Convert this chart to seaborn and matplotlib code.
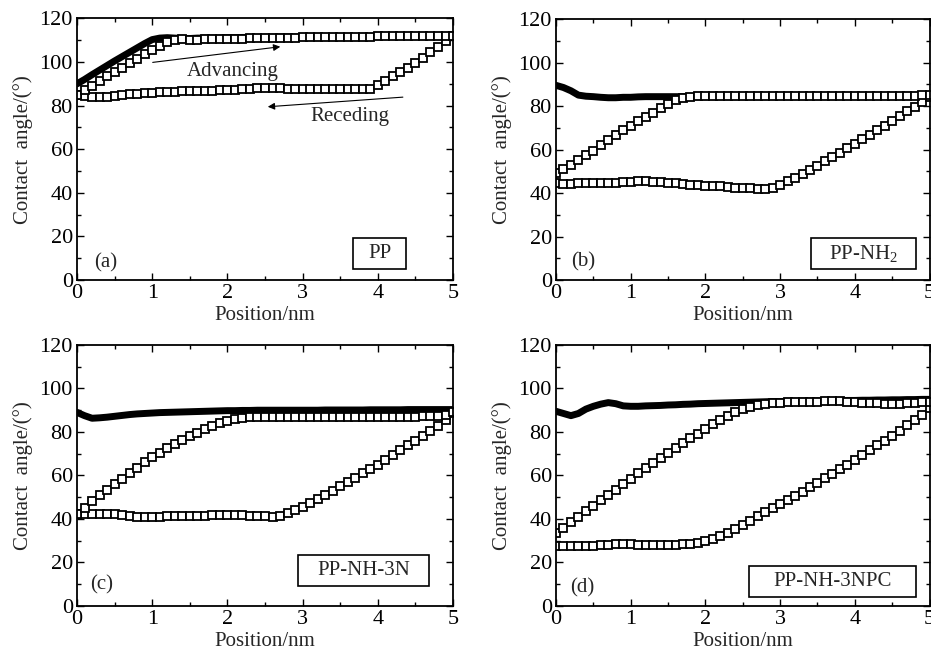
import matplotlib
matplotlib.use("Agg")
import matplotlib.pyplot as plt
from matplotlib.patches import Rectangle
from matplotlib.ticker import MultipleLocator
import seaborn as sns

pos = [0.0, 0.1, 0.2, 0.3, 0.4, 0.5, 0.6, 0.7, 0.8, 0.9,
       1.0, 1.1, 1.2, 1.3, 1.4, 1.5, 1.6, 1.7, 1.8, 1.9,
       2.0, 2.1, 2.2, 2.3, 2.4, 2.5, 2.6, 2.7, 2.8, 2.9,
       3.0, 3.1, 3.2, 3.3, 3.4, 3.5, 3.6, 3.7, 3.8, 3.9,
       4.0, 4.1, 4.2, 4.3, 4.4, 4.5, 4.6, 4.7, 4.8, 4.9,
       5.0]

# (a) PP
a_adv1 = [90.0, 92.0, 94.2, 96.3, 98.4, 100.5, 102.5, 104.5, 106.5, 108.5,
          110.3, 111.0, 111.2, 111.0, 110.8, 110.8, 111.0, 111.0, 111.0, 111.0,
          111.2, 111.2, 111.3, 111.3, 111.3, 111.4, 111.4, 111.5, 111.5, 111.5,
          111.5, 111.6, 111.6, 111.6, 111.6, 111.7, 111.7, 111.7, 111.8, 111.8,
          111.8, 111.9, 111.9, 112.0, 112.0, 112.0, 112.0, 112.0, 112.0, 112.0,
          112.0]
a_adv2 = [85.0, 87.0, 89.0, 91.2, 93.4, 95.5, 97.5, 99.5, 101.5, 103.5,
          105.5, 107.5, 109.3, 110.3, 110.5, 110.3, 110.3, 110.5, 110.5, 110.6,
          110.7, 110.8, 110.8, 110.9, 111.0, 111.0, 111.0, 111.1, 111.2, 111.2,
          111.3, 111.3, 111.4, 111.4, 111.5, 111.5, 111.6, 111.6, 111.7, 111.7,
          111.8, 111.8, 111.9, 111.9, 112.0, 112.0, 112.0, 112.0, 112.0, 112.0,
          112.0]
a_rec = [85.0, 84.3, 84.0, 84.0, 84.2, 84.5, 84.8, 85.2, 85.5, 85.8,
         86.0, 86.2, 86.3, 86.4, 86.5, 86.6, 86.6, 86.7, 86.8, 87.0,
         87.2, 87.4, 87.6, 87.8, 88.0, 88.2, 88.2, 88.0, 87.8, 87.7,
         87.6, 87.5, 87.5, 87.5, 87.5, 87.5, 87.5, 87.5, 87.5, 87.8,
         89.5, 91.5, 93.5, 95.5, 97.5, 99.5, 102.0, 104.5, 107.0, 109.5,
         112.0]

# (b) PP-NH2
b_adv1 = [89.5, 88.5, 87.0, 85.0, 84.5, 84.3, 84.0, 83.8, 83.8, 84.0,
          84.0, 84.2, 84.3, 84.3, 84.3, 84.3, 84.3, 84.3, 84.3, 84.3,
          84.3, 84.3, 84.3, 84.3, 84.3, 84.3, 84.3, 84.4, 84.4, 84.4,
          84.4, 84.4, 84.5, 84.5, 84.5, 84.5, 84.5, 84.6, 84.6, 84.6,
          84.6, 84.7, 84.7, 84.7, 84.8, 84.8, 84.8, 84.9, 84.9, 85.0,
          85.0]
b_adv2 = [49.0, 51.0, 53.0, 55.0, 57.5, 59.5, 62.0, 64.5, 66.8, 69.0,
          71.0, 73.0, 75.0, 77.0, 79.0, 81.0, 82.8, 83.8, 84.3, 84.4,
          84.4, 84.4, 84.4, 84.4, 84.4, 84.4, 84.4, 84.4, 84.4, 84.4,
          84.4, 84.4, 84.5, 84.5, 84.5, 84.5, 84.5, 84.5, 84.6, 84.6,
          84.6, 84.6, 84.7, 84.7, 84.7, 84.7, 84.8, 84.8, 84.8, 84.9,
          85.0]
b_rec = [44.5, 44.3, 44.3, 44.4, 44.5, 44.5, 44.6, 44.7, 44.8, 45.0,
         45.2, 45.4, 45.4, 45.2, 45.0, 44.7, 44.4, 44.1, 43.8, 43.6,
         43.4, 43.2, 43.0, 42.8, 42.5, 42.3, 42.2, 41.8, 41.8, 42.5,
         43.8, 45.3, 47.0, 48.8, 50.7, 52.6, 54.5, 56.5, 58.5, 60.5,
         62.5, 64.6, 66.7, 68.8, 71.0, 73.2, 75.4, 77.6, 79.7, 81.8,
         84.0]

# (c) PP-NH-3N
c_adv1 = [89.0, 87.5, 86.3, 86.5, 86.8, 87.2, 87.6, 88.0, 88.3, 88.5,
          88.7, 88.9, 89.0, 89.1, 89.2, 89.3, 89.4, 89.5, 89.6, 89.7,
          89.8, 89.8, 89.9, 89.9, 90.0, 90.0, 90.0, 90.0, 90.0, 90.0,
          90.0, 90.0, 90.0, 90.1, 90.1, 90.1, 90.1, 90.1, 90.1, 90.2,
          90.2, 90.2, 90.2, 90.2, 90.3, 90.3, 90.3, 90.3, 90.3, 90.3,
          90.3]
c_adv2 = [42.0, 45.0, 48.0, 50.8, 53.5, 56.0, 58.5, 61.0, 63.5, 66.0,
          68.3, 70.5, 72.5, 74.5, 76.3, 78.0, 79.7, 81.3, 82.8, 84.0,
          85.0, 86.0, 86.5, 86.7, 86.8, 86.8, 86.8, 86.8, 86.8, 86.8,
          86.8, 86.9, 86.9, 86.9, 86.9, 86.9, 87.0, 87.0, 87.0, 87.0,
          87.0, 87.0, 87.0, 87.0, 87.1, 87.1, 87.2, 87.3, 87.5, 88.0,
          89.0]
c_rec = [42.0, 42.0, 42.0, 42.0, 42.0, 42.0, 41.8, 41.5, 41.0, 40.8,
         40.8, 41.0, 41.2, 41.3, 41.4, 41.4, 41.4, 41.5, 41.6, 41.7,
         41.8, 41.7, 41.6, 41.5, 41.4, 41.2, 41.0, 41.5, 42.7, 44.0,
         45.5, 47.2, 49.0, 51.0, 53.0, 55.0, 57.0, 59.0, 61.0, 63.0,
         65.0, 67.2, 69.4, 71.6, 73.8, 76.0, 78.2, 80.4, 82.6, 85.5,
         88.5]

# (d) PP-NH-3NPC
d_adv1 = [89.5, 88.5, 87.5, 88.5, 90.5, 91.8, 92.8, 93.5, 93.0, 92.0,
          91.8, 91.8, 92.0, 92.1, 92.2, 92.4, 92.5, 92.7, 92.8, 93.0,
          93.1, 93.2, 93.3, 93.4, 93.5, 93.6, 93.7, 93.8, 93.9, 94.0,
          94.0, 94.1, 94.1, 94.2, 94.2, 94.3, 94.3, 94.4, 94.4, 94.5,
          94.5, 94.6, 94.6, 94.7, 94.7, 94.8, 94.8, 94.9, 94.9, 95.0,
          95.0]
d_adv2 = [33.5, 36.0, 38.5, 41.0, 43.5, 46.0, 48.5, 51.0, 53.5, 56.0,
          58.5, 61.0, 63.3, 65.6, 67.9, 70.2, 72.5, 74.8, 77.0, 79.2,
          81.4, 83.5, 85.5, 87.3, 89.0, 90.4, 91.6, 92.5, 93.0, 93.3,
          93.5, 93.6, 93.7, 93.8, 93.9, 94.0, 94.2, 94.3, 94.2, 94.0,
          93.7, 93.5, 93.3, 93.2, 93.0, 92.9, 93.0, 93.2, 93.4, 93.6,
          94.0]
d_rec = [27.5, 27.3, 27.3, 27.4, 27.5, 27.6, 27.8, 28.0, 28.2, 28.3,
         28.2, 28.0, 27.8, 27.8, 27.8, 27.9, 28.0, 28.2, 28.5, 29.0,
         29.7, 30.7, 32.0, 33.6, 35.4, 37.3, 39.2, 41.1, 43.0, 44.9,
         46.8, 48.7, 50.6, 52.5, 54.5, 56.5, 58.6, 60.7, 62.8, 65.0,
         67.2, 69.4, 71.6, 73.8, 76.0, 78.3, 80.6, 83.0, 85.4, 88.0,
         91.0]

panel_tags = ["(a)", "(b)", "(c)", "(d)"]
sample_names = ["PP", "PP-NH$_2$", "PP-NH-3N", "PP-NH-3NPC"]

sns.set_style("ticks")
plt.rcParams["font.family"] = ["Liberation Serif", "DejaVu Serif"]
plt.rcParams["mathtext.fontset"] = "custom"
plt.rcParams["mathtext.rm"] = "Liberation Serif"
plt.rcParams["mathtext.it"] = "Liberation Serif:italic"
plt.rcParams["font.size"] = 15

fig = plt.figure(figsize=(9.31, 6.53), dpi=100)

# axes rectangles in figure fractions (right column runs to the edge, as in the scan)
rects = [(0.0827, 0.5712, 0.4039, 0.4005),
         (0.5972, 0.5712, 0.4012, 0.3997),
         (0.0827, 0.0724, 0.4039, 0.3992),
         (0.5972, 0.0724, 0.4012, 0.3992)]
# name box (x0, y0, x1, y1) and tag position in axes fractions
boxes = [(0.734, 0.042, 0.875, 0.1615),
         (0.683, 0.042, 0.963, 0.1615),
         (0.588, 0.077, 0.936, 0.195),
         (0.517, 0.034, 0.963, 0.153)]
tag_xy = [(0.077, 0.065), (0.072, 0.069), (0.066, 0.080), (0.069, 0.069)]

curves = [(a_adv1, a_rec, a_adv2),
          (b_adv1, b_rec, b_adv2),
          (c_adv1, c_rec, c_adv2),
          (d_adv1, d_rec, d_adv2)]

# dense hollow squares, touching each other like the scanned bands
hollow = dict(color="black", linewidth=1.6, marker="s", markersize=5.6,
              markerfacecolor="white", markeredgecolor="black",
              markeredgewidth=1.3)

for i in range(4):
    ax = fig.add_axes(rects[i])
    first, rec, second = curves[i]

    # first advancing run looks solid black in the scan
    sns.lineplot(x=pos, y=first, ax=ax, sort=False, estimator=None,
                 color="black", linewidth=5)
    sns.lineplot(x=pos, y=rec, ax=ax, sort=False, estimator=None, **hollow)
    sns.lineplot(x=pos, y=second, ax=ax, sort=False, estimator=None, **hollow)

    ax.set_xlim(0, 5)
    ax.set_ylim(0, 120)
    ax.xaxis.set_major_locator(MultipleLocator(1))
    ax.xaxis.set_minor_locator(MultipleLocator(0.5))
    ax.yaxis.set_major_locator(MultipleLocator(20))
    ax.yaxis.set_minor_locator(MultipleLocator(10))
    ax.tick_params(which="both", direction="in", top=True, right=True,
                   width=1.0, colors="black", labelsize=16)
    ax.tick_params(which="major", length=5, pad=3)
    ax.tick_params(which="minor", length=3)
    for sp in ax.spines.values():
        sp.set_linewidth(1.3)
        sp.set_color("black")

    ax.set_xlabel("Position/nm", fontsize=15, labelpad=2)
    ax.set_ylabel("Contact  angle/(\u00b0)", fontsize=15, labelpad=5)

    x0, y0, x1, y1 = boxes[i]
    ax.add_patch(Rectangle((x0, y0), x1 - x0, y1 - y0, transform=ax.transAxes,
                           fill=False, edgecolor="black", linewidth=1.2))
    ax.text((x0 + x1) / 2, (y0 + y1) / 2, sample_names[i], transform=ax.transAxes,
            ha="center", va="center", fontsize=15)
    ax.text(tag_xy[i][0], tag_xy[i][1], panel_tags[i], transform=ax.transAxes,
            ha="center", va="center", fontsize=15)

    if i == 0:
        ax.annotate("", xy=(2.74, 107.2), xytext=(0.97, 99.7),
                    arrowprops=dict(arrowstyle="-|>", color="black", lw=0.8,
                                    mutation_scale=10))
        ax.text(2.07, 95.5, "Advancing", ha="center", va="center", fontsize=15)
        ax.annotate("", xy=(2.50, 79.4), xytext=(4.37, 84.0),
                    arrowprops=dict(arrowstyle="-|>", color="black", lw=0.8,
                                    mutation_scale=10))
        ax.text(3.63, 74.8, "Receding", ha="center", va="center", fontsize=15)

fig.savefig("out.png", dpi=100)
